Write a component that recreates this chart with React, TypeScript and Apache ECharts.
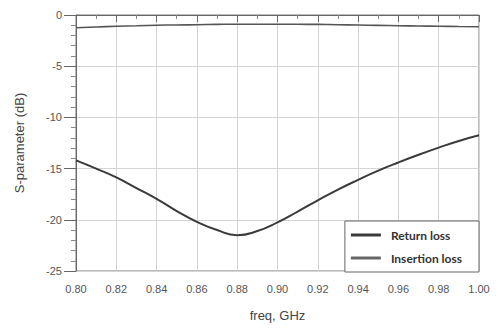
import React, { useEffect, useRef } from "react";
import * as echarts from "echarts";

const freqs = [0.80, 0.81, 0.82, 0.83, 0.84, 0.85, 0.86, 0.87, 0.88, 0.89, 0.90, 0.91, 0.92, 0.93, 0.94, 0.95, 0.96, 0.97, 0.98, 0.99, 1.00];
const returnLoss = [-14.2, -15.0, -15.85, -16.9, -17.95, -19.15, -20.2, -21.0, -21.5, -21.1, -20.25, -19.2, -18.1, -17.05, -16.1, -15.2, -14.4, -13.65, -12.95, -12.3, -11.75];
const insertionLoss = [-1.25, -1.17, -1.1, -1.05, -1.0, -0.97, -0.95, -0.92, -0.9, -0.9, -0.9, -0.91, -0.92, -0.95, -0.98, -1.01, -1.05, -1.08, -1.1, -1.13, -1.15];
const seriesNames = ["Return loss", "Insertion loss"];

export default function App() {
  const ref = useRef<HTMLDivElement>(null);
  useEffect(() => {
    if (!ref.current) return;
    const chart = echarts.init(ref.current, null, { renderer: "svg" });
    const tickFont = { fontFamily: "Liberation Sans", fontSize: 11, color: "#555" };
    chart.setOption({
      animation: false,
      backgroundColor: "#fff",
      grid: { left: 76, right: 19, top: 15, bottom: 58, show: true, borderColor: "#777", borderWidth: 1 },
      legend: {
        orient: "vertical",
        right: 19,
        top: 221,
        padding: [8, 17, 8, 6],
        icon: "rect",
        itemWidth: 30,
        itemHeight: 3,
        itemGap: 11,
        borderColor: "#666",
        borderWidth: 1,
        backgroundColor: "#fff",
        textStyle: { fontFamily: "Lato", fontWeight: "bold", fontSize: 12, color: "#333", padding: [0, 0, 0, 5] },
        data: seriesNames,
      },
      xAxis: {
        type: "value",
        min: 0.8,
        max: 1.0,
        interval: 0.02,
        name: "freq, GHz",
        nameLocation: "middle",
        nameGap: 38,
        nameTextStyle: { fontFamily: "Liberation Sans", fontSize: 13, color: "#444" },
        axisLine: { lineStyle: { color: "#666" } },
        axisTick: { show: true, length: 7, lineStyle: { color: "#666" } },
        minorTick: { show: true, splitNumber: 2, length: 4, lineStyle: { color: "#888" } },
        axisLabel: { ...tickFont, margin: 12, formatter: (v: number) => v.toFixed(2) },
        splitLine: { show: true, lineStyle: { color: "#d4d4d4" } },
      },
      yAxis: {
        type: "value",
        min: -25,
        max: 0,
        interval: 5,
        name: "S-parameter (dB)",
        nameLocation: "middle",
        nameGap: 50,
        nameTextStyle: { fontFamily: "Liberation Sans", fontSize: 13, color: "#444" },
        axisLine: { show: true, lineStyle: { color: "#666" } },
        axisTick: { show: true, length: 12, lineStyle: { color: "#666" } },
        minorTick: { show: true, splitNumber: 5, length: 5, lineStyle: { color: "#888" } },
        axisLabel: { ...tickFont, margin: 14 },
        splitLine: { show: true, lineStyle: { color: "#d4d4d4" } },
      },
      series: [
        {
          name: seriesNames[0],
          type: "line",
          smooth: true,
          symbol: "none",
          lineStyle: { color: "#3a3a3a", width: 2 },
          itemStyle: { color: "#3a3a3a" },
          data: freqs.map((f, i) => [f, returnLoss[i]]),
          z: 3,
        },
        {
          name: seriesNames[1],
          type: "line",
          smooth: true,
          symbol: "none",
          lineStyle: { color: "#555", width: 1.6 },
          itemStyle: { color: "#666" },
          data: freqs.map((f, i) => [f, insertionLoss[i]]),
          z: 3,
        },
      ],
    });
    return () => chart.dispose();
  }, []);
  return <div ref={ref} style={{ width: 498, height: 329, position: "absolute", left: 0, top: 0 }} />;
}
